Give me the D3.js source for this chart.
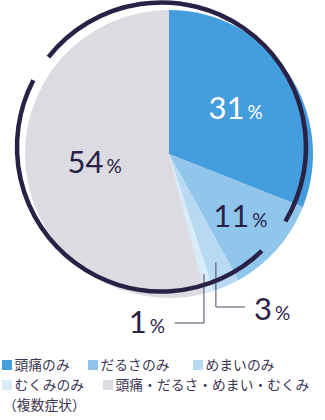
<!DOCTYPE html>
<html>
<head>
<meta charset="utf-8">
<script src="https://cdn.jsdelivr.net/npm/d3@7"></script>
<style>
  body { margin: 0; background: #fff; }
  svg { display: block; }
  .num { font-family: Lato, "Noto Sans", sans-serif; }
  .legend-text { font-family: "Noto Sans CJK JP", sans-serif; font-size: 13.8px; fill: #3b3552; }
</style>
</head>
<body>
<div id="chart"></div>
<script>
// Data
const categories = ["頭痛のみ", "だるさのみ", "めまいのみ", "むくみのみ", "頭痛・だるさ・めまい・むくみ"];
const values = [31, 11, 3, 1, 54];
const colors = ["#449ddd", "#90c6eb", "#b7d9f2", "#d8ebf8", "#dcdbe1"];
const legendNote = "（複数症状）";

const width = 325, height = 420;
const cx = 169, cy = 154, radius = 144;
const ink = "#2a2246";

const svg = d3.select("#chart")
    .append("svg")
    .attr("width", width)
    .attr("height", height);

const pie = d3.pie().sort(null).value(d => d)(values);
const arc = d3.arc().innerRadius(0).outerRadius(radius);

// Pie slices
const g = svg.append("g").attr("transform", `translate(${cx}, ${cy})`);
g.selectAll("path")
    .data(pie)
    .enter()
    .append("path")
    .attr("d", arc)
    .attr("fill", (d, i) => colors[i]);

// Decorative ring, offset up-left with two gaps
const ringArc = d3.arc().innerRadius(144.5).outerRadius(144.5);
const ringSegments = [
    { start: -51.5, end: 121 },
    { start: 136, end: 297.5 }
];
const ring = svg.append("g").attr("transform", `translate(${cx - 7.5}, ${cy - 7})`);
ring.selectAll("path")
    .data(ringSegments)
    .enter()
    .append("path")
    .attr("d", d => ringArc({ startAngle: d.start * Math.PI / 180, endAngle: d.end * Math.PI / 180 }))
    .attr("fill", "none")
    .attr("stroke", ink)
    .attr("stroke-width", 4.5)
    .attr("stroke-linecap", "round");

// Inside labels
const labelPos = [
    { idx: 0, r: 0.56, color: "#fff", dx: 0, dy: 0 },
    { idx: 1, r: 0.66, color: ink, dx: 0, dy: 0 },
    { idx: 4, r: 0.52, color: ink, dx: 0, dy: 0 }
];
function polar(angle, r) {
    return [Math.sin(angle) * r, -Math.cos(angle) * r];
}
labelPos.forEach(l => {
    const d = pie[l.idx];
    const mid = (d.startAngle + d.endAngle) / 2;
    const [x, y] = polar(mid, radius * l.r);
    const t = g.append("text")
        .attr("class", "num")
        .attr("x", x + l.dx)
        .attr("y", y + l.dy + 10)
        .attr("text-anchor", "middle")
        .attr("fill", l.color);
    t.append("tspan").attr("font-size", 31).text(values[l.idx]);
    t.append("tspan").attr("font-size", 19).attr("dx", 3).text("%");
});

// Outside labels with leader lines
const leaders = [
    { idx: 2, r: 0.82, bendY: 153, endDx: 29, textDx: 9, anchor: "start", textDy: 13 },
    { idx: 3, r: 0.87, bendY: 169, endDx: -29, textDx: -10, anchor: "end", textDy: 10 }
];
leaders.forEach(l => {
    const d = pie[l.idx];
    const mid = (d.startAngle + d.endAngle) / 2;
    const [x0, y0] = polar(mid, radius * l.r);
    const path = d3.path();
    path.moveTo(x0, y0);
    path.lineTo(x0, l.bendY);
    path.lineTo(x0 + l.endDx, l.bendY);
    g.append("path")
        .attr("d", path.toString())
        .attr("fill", "none")
        .attr("stroke", "#4a4463")
        .attr("stroke-width", 1);
    const t = g.append("text")
        .attr("class", "num")
        .attr("x", x0 + l.endDx + l.textDx)
        .attr("y", l.bendY + l.textDy)
        .attr("text-anchor", l.anchor)
        .attr("fill", ink);
    t.append("tspan").attr("font-size", 31).text(values[l.idx]);
    t.append("tspan").attr("font-size", 19).attr("dx", 3).text("%");
});

// Legend
const legendRows = [
    [{ i: 0, x: 2 }, { i: 1, x: 88 }, { i: 2, x: 193 }],
    [{ i: 3, x: 2 }, { i: 4, x: 103 }]
];
const rowY = [365, 385];
legendRows.forEach((row, r) => {
    row.forEach(item => {
        svg.append("rect")
            .attr("x", item.x)
            .attr("y", rowY[r] - 5)
            .attr("width", 10)
            .attr("height", 10)
            .attr("fill", colors[item.i]);
        svg.append("text")
            .attr("class", "legend-text")
            .attr("x", item.x + 12.5)
            .attr("y", rowY[r] + 5)
            .text(categories[item.i]);
    });
});
svg.append("text")
    .attr("class", "legend-text")
    .attr("x", 3)
    .attr("y", 410)
    .text(legendNote);
</script>
</body>
</html>
